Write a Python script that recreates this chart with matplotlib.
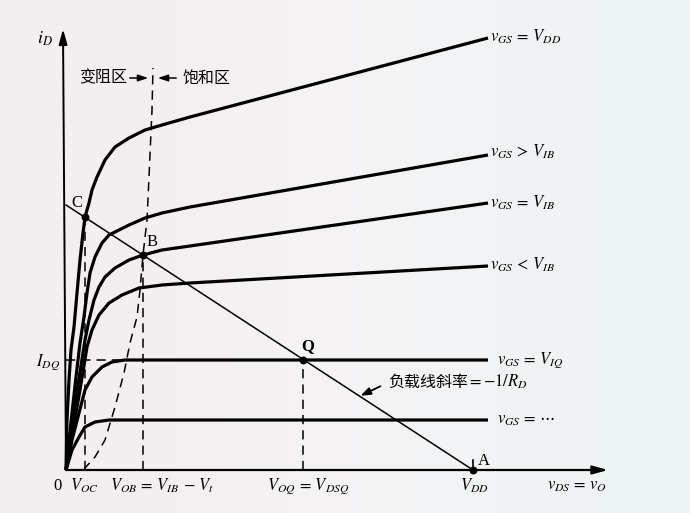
import matplotlib
matplotlib.use("Agg")
import matplotlib.pyplot as plt
import numpy as np

plt.rcParams['mathtext.fontset'] = 'stix'
plt.rcParams['font.family'] = ['Liberation Serif', 'Noto Sans CJK SC', 'DejaVu Sans']

# ---- data (arbitrary units) ----
vds_vdd = [0, 1, 3, 5, 8, 11, 14, 17, 19, 23, 26, 31, 39, 49, 63, 79, 96, 124, 422]
id_vdd = [0, 50, 90, 120, 143, 177, 210, 237, 253, 267, 280, 293, 310, 323, 332, 340, 345, 353, 432]

vds_gt = [0, 5, 10, 14, 18, 21, 24, 29, 36, 43, 49, 63, 79, 96, 124, 422]
id_gt = [0, 48, 93, 127, 153, 177, 197, 213, 227, 235, 238, 245, 252, 257, 263, 315]

vds_eq = [0, 6, 12, 19, 23, 28, 33, 39, 49, 63, 77, 96, 124, 422]
id_eq = [0, 40, 85, 130, 150, 170, 183, 193, 202, 210, 215, 220, 224, 267]

vds_lt = [0, 7, 14, 21, 26, 33, 43, 56, 73, 96, 124, 422]
id_lt = [0, 40, 80, 123, 140, 155, 167, 175, 182, 185, 187, 204]

vds_q = [0, 3, 6, 13, 19, 26, 36, 46, 59, 422]
id_q = [0, 15, 30, 57, 80, 93, 103, 108, 110, 110]

vds_low = [0, 3, 6, 13, 19, 29, 43, 422]
id_low = [0, 10, 20, 33, 43, 48, 50, 50]

vds_sat = [18, 19, 29, 39, 49, 58, 64, 71, 74, 77, 81, 83, 86, 87]
id_sat = [0, 2, 13, 30, 63, 97, 127, 153, 180, 215, 250, 293, 360, 402]

load_vds = [0, 407]
load_id = [265, 0]

pt_names = ['C', 'B', 'Q', 'A']
pt_vds = [19, 77, 237, 407]
pt_id = [253, 215, 110, 0]

curve_labels = [r'$v_{GS}\,=\,V_{DD}$', r'$v_{GS}\,>\,V_{IB}$', r'$v_{GS}\,=\,V_{IB}$',
                r'$v_{GS}\,<\,V_{IB}$', r'$v_{GS}\,=\,V_{IQ}$', r'$v_{GS}\,=\,\cdots$']

# ---- figure ----
fig = plt.figure(figsize=(6.9, 5.13), dpi=100)
bg = fig.add_axes([0, 0, 1, 1], zorder=0)
grad = np.zeros((2, 3, 3))
left = np.array([0xf3, 0xee, 0xf0]) / 255
mid = np.array([0xf6, 0xf4, 0xf5]) / 255
right = np.array([0xee, 0xf3, 0xf4]) / 255
for r in range(2):
    grad[r, 0], grad[r, 1], grad[r, 2] = left, mid, right
bg.imshow(grad, aspect='auto', interpolation='bicubic', extent=[0, 1, 0, 1])
bg.set_axis_off()

ax = fig.add_axes([0, 0, 1, 1], zorder=1)
ax.set_xlim(-66, 624)
ax.set_ylim(-43, 470)
ax.set_axis_off()
ax.patch.set_alpha(0)

k = 'black'
lw_c = 2.3
for xs, ys in [(vds_vdd, id_vdd), (vds_gt, id_gt), (vds_eq, id_eq), (vds_lt, id_lt),
               (vds_q, id_q), (vds_low, id_low)]:
    ax.plot(xs, ys, color=k, lw=lw_c, solid_capstyle='butt', solid_joinstyle='round')

dash = (0, (6, 4))
ax.plot(vds_sat, id_sat, color=k, lw=1.1, ls=dash)
# load line
ax.plot(load_vds, load_id, color=k, lw=1.1)
# guide dashed lines
ax.plot([pt_vds[0], pt_vds[0]], [0, pt_id[0]], color=k, lw=1.1, ls=dash)
ax.plot([pt_vds[1], pt_vds[1]], [0, pt_id[1]], color=k, lw=1.1, ls=dash)
ax.plot([pt_vds[2], pt_vds[2]], [0, pt_id[2]], color=k, lw=1.1, ls=dash)
ax.plot([0, vds_q[-2]], [id_q[-2], id_q[-2]], color=k, lw=1.1, ls=dash)

# points
ax.scatter(pt_vds, pt_id, s=22, color=k, zorder=5)
ax.plot([pt_vds[3], pt_vds[3]], [0, 10], color=k, lw=1.2)

# axes arrows
ax.annotate('', xy=(542, 0), xytext=(0, 0),
            arrowprops=dict(arrowstyle='-|>,head_length=0.9,head_width=0.25', color=k, lw=1.6,
                            shrinkA=0, shrinkB=0))
ax.annotate('', xy=(-3, 441), xytext=(0, 0),
            arrowprops=dict(arrowstyle='-|>,head_length=0.9,head_width=0.25', color=k, lw=1.4,
                            shrinkA=0, shrinkB=0))

fs = 12
# point labels
ax.text(11, 267, 'C', fontsize=12, ha='center', va='center')
ax.text(86, 228, 'B', fontsize=12, ha='center', va='center')
ax.text(242, 124, 'Q', fontsize=12, ha='center', va='center', fontweight='bold')
ax.text(418, 9, 'A', fontsize=12, ha='center', va='center')

# axis labels
ax.text(-21, 431, r'$i_D$', fontsize=13, ha='center', va='center')
ax.text(-9, -16, '0', fontsize=12, ha='center', va='center')
ax.text(18, -16, r'$V_{OC}$', fontsize=fs, ha='center', va='center')
ax.text(44, -16, r'$V_{OB}\,=\,V_{IB}\,-\,V_t$', fontsize=fs, ha='left', va='center')
ax.text(242, -16, r'$V_{OQ}\,=\,V_{DSQ}$', fontsize=fs, ha='center', va='center')
ax.text(408, -16, r'$V_{DD}$', fontsize=fs, ha='center', va='center')
ax.text(511, -16, r'$v_{DS}\,=\,v_O$', fontsize=fs, ha='center', va='center')
ax.text(-6, 108, r'$I_{DQ}$', fontsize=fs, ha='right', va='center')

# curve labels
lab_x = [424, 424, 424, 424, 431, 431]
lab_y = [433, 318, 267, 205, 110, 50]
for s, lx, ly in zip(curve_labels, lab_x, lab_y):
    ax.text(lx, ly, s, fontsize=fs, ha='left', va='center')

# region labels
cjk = ['Noto Sans CJK SC', 'DejaVu Sans']
ax.text(37, 392, '变阻区', fontsize=11.5, family=cjk, ha='center', va='center')
ax.text(141, 392, '饱和区', fontsize=11.5, family=cjk, ha='center', va='center')
ax.annotate('', xy=(85, 392), xytext=(61, 392),
            arrowprops=dict(arrowstyle='-|>,head_length=0.6,head_width=0.2', color=k, lw=1.1))
ax.annotate('', xy=(89, 392), xytext=(113, 392),
            arrowprops=dict(arrowstyle='-|>,head_length=0.6,head_width=0.2', color=k, lw=1.1))

# load line label
ax.text(322, 88, '负载线斜率', fontsize=11.5, family=cjk, ha='left', va='center')
ax.text(401, 88, r'$=-1/R_D$', fontsize=fs, ha='left', va='center')
ax.annotate('', xy=(292, 73), xytext=(317, 85),
            arrowprops=dict(arrowstyle='-|>,head_length=0.6,head_width=0.22', color=k, lw=1.3))

fig.savefig('out.png', dpi=100)
